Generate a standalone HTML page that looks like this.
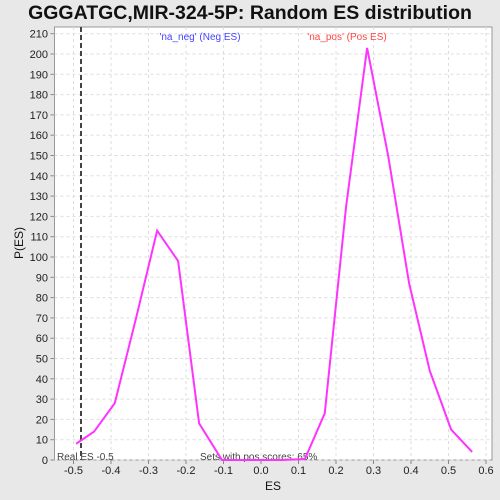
<!DOCTYPE html>
<html><head><meta charset="utf-8"><style>
body{margin:0;background:#e8e8e8;font-family:"Liberation Sans",sans-serif;}
svg{display:block}
</style></head><body>
<svg width="500" height="500">
<rect width="500" height="500" fill="#e8e8e8"/>
<text x="250" y="19" text-anchor="middle" font-size="19.5" font-weight="bold" fill="#111">GGGATGC,MIR-324-5P: Random ES distribution</text>
<rect x="54.5" y="27" width="437.5" height="433" fill="#fff" stroke="#999"/>
<g id="grid"></g><g id="axes"></g>
<text x="200" y="40" text-anchor="middle" font-size="10" fill="#4444ff">'na_neg' (Neg ES)</text>
<text x="347" y="40" text-anchor="middle" font-size="10" fill="#ff4444">'na_pos' (Pos ES)</text>
<text x="57" y="460" font-size="10" fill="#444">Real ES -0.5</text>
<text x="200" y="460" font-size="10" fill="#444">Sets with pos scores: 65%</text>
<text x="273" y="490" text-anchor="middle" font-size="12" fill="#111">ES</text>
<text x="23" y="243" text-anchor="middle" font-size="12" fill="#111" transform="rotate(-90 23 243)">P(ES)</text>
<g id="series"></g>
</svg>
<script>
const esValues=[-0.493,-0.445,-0.39,-0.333,-0.277,-0.221,-0.165,-0.104,-0.05,0,0.055,0.117,0.17,0.227,0.283,0.339,0.395,0.45,0.507,0.563];
const pValues=[8,14,28,70,113,98,18,0,0,0,0,0.5,23,125,203,150,87,44,15,4];
const xTicks=[-0.5,-0.4,-0.3,-0.2,-0.1,0.0,0.1,0.2,0.3,0.4,0.5,0.6];
const yTicks=[0,10,20,30,40,50,60,70,80,90,100,110,120,130,140,150,160,170,180,190,200,210];
const realES=-0.48;
const NS="http://www.w3.org/2000/svg";
const xs=v=>73.5+(v+0.5)*375, ys=v=>460-v*2.03;
function mk(t,a,p){const e=document.createElementNS(NS,t);for(const k in a)e.setAttribute(k,a[k]);p.appendChild(e);return e;}
const g=document.getElementById('grid'),ax=document.getElementById('axes'),s=document.getElementById('series');
xTicks.forEach(v=>{const x=xs(v);
const l=mk('line',{x1:x,x2:x,y1:27,y2:460,stroke:'#ddd','stroke-dasharray':'3,3'},g);

mk('line',{x1:x,x2:x,y1:460,y2:464,stroke:'#888'},ax);
const t=mk('text',{x:x,y:474,'text-anchor':'middle','font-size':11,fill:'#222'},ax);t.textContent=v.toFixed(1);
});
yTicks.forEach(v=>{const y=ys(v);
const l=mk('line',{x1:54.5,x2:492,y1:y,y2:y,stroke:'#ddd','stroke-dasharray':'3,3'},g);

mk('line',{x1:50.5,x2:54.5,y1:y,y2:y,stroke:'#888'},ax);
const t=mk('text',{x:48,y:y+4,'text-anchor':'end','font-size':11,fill:'#222'},ax);t.textContent=v;
});
const rl=mk('line',{x1:xs(realES),x2:xs(realES),y1:27,y2:460,stroke:'#444','stroke-width':2,'stroke-dasharray':'5,3'},s);

const pl=mk('polyline',{points:esValues.map((v,i)=>xs(v)+','+ys(pValues[i])).join(' '),fill:'none',stroke:'#ff33ff','stroke-width':2},s);

</script>
</body></html>
